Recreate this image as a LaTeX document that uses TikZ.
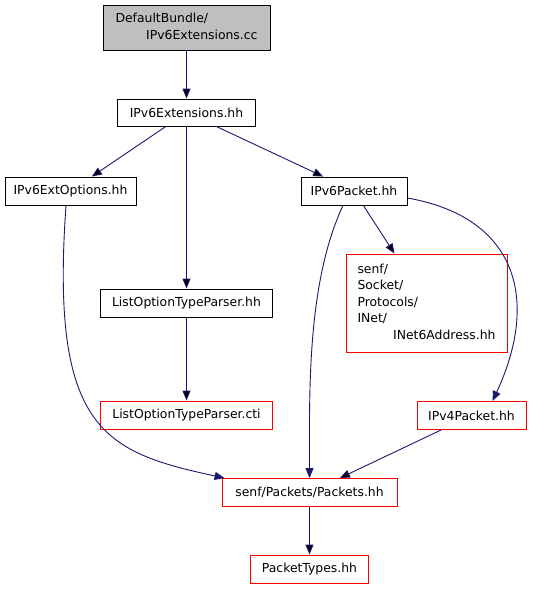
\documentclass[tikz,border=0pt]{standalone}
\usepackage{fontspec}
\setmainfont{DejaVu Sans}
\usepackage{xcolor}
\usepackage{tikz}
\usetikzlibrary{arrows.meta,positioning}

\definecolor{edgeblue}{HTML}{191970}
\definecolor{mainfill}{HTML}{BFBFBF}

\begin{document}
\begin{tikzpicture}[on grid,auto,
		file/.style={draw=black,fill=white,rectangle,inner sep=0pt,minimum height=28pt,line width=0.9pt,font=\fontsize{12.4}{16.5}\selectfont},
		missing/.style={file,draw=red},
		mainfile/.style={file,fill=mainfill},
		dep/.style={-{Triangle[length=10pt,width=8pt]},draw=edgeblue,line width=0.9pt}]
		\useasboundingbox (0pt,0pt) rectangle (543pt,-589pt);
		
		\node[mainfile,minimum width=167pt,minimum height=45pt] (cc) at (186.5pt,-27.5pt)
			{\begin{tabular}{@{}p{142pt}@{}}DefaultBundle/\\\hspace*{\fill}IPv6Extensions.cc\end{tabular}};
		\node[file,minimum width=138pt,minimum height=27pt] (hh)    [below=85pt of cc]                {IPv6Extensions.hh};
		\node[file,minimum width=131pt]    (extopt) [below left=78.5pt and 116pt of hh]   {IPv6ExtOptions.hh};
		\node[file,minimum width=106pt]    (v6pkt)  [below right=78.5pt and 167.5pt of hh] {IPv6Packet.hh};
		\node[file,minimum width=172pt]    (lotp)   [below=190.5pt of hh]                 {ListOptionTypeParser.hh};
		\node[missing,minimum width=172pt] (cti)    [below=112pt of lotp]                 {ListOptionTypeParser.cti};
		\node[missing,minimum width=161pt,minimum height=98pt] (inet6) [below right=112pt and 72.5pt of v6pkt]
			{\begin{tabular}{@{}p{138pt}@{}}senf/\\Socket/\\Protocols/\\INet/\\\hspace*{\fill}INet6Address.hh\end{tabular}};
		\node[missing,minimum width=109pt] (v4pkt)   [below=112.5pt of inet6, xshift=45pt] {IPv4Packet.hh};
		\node[missing,minimum width=175pt] (packets) [below right=77.5pt and 123pt of cti] {senf/Packets/Packets.hh};
		\node[missing,minimum width=118pt] (types)   [below=76.5pt of packets]            {PacketTypes.hh};
		
		\path[dep]
		(cc) edge (hh)
		(hh) edge (extopt)
		edge (lotp)
		edge (v6pkt)
		(lotp) edge (cti)
		(v6pkt) edge (inet6)
		(v4pkt) edge (packets)
		(packets) edge (types);
		
		% the long bent ones
		\draw[dep] ([xshift=-4.5pt]extopt.south) .. controls +(-16pt,-225pt) and +(-120pt,26pt) .. ([xshift=3pt]packets.north west);
		\draw[dep] ([xshift=-11pt]v6pkt.south) to [out=-115,in=90,looseness=0.8] (packets.north);
		\draw[dep] ([yshift=-7pt]v6pkt.east) to [out=-10,in=65,looseness=1.3] ([xshift=21pt]v4pkt.north);
		
\end{tikzpicture}
\end{document}
